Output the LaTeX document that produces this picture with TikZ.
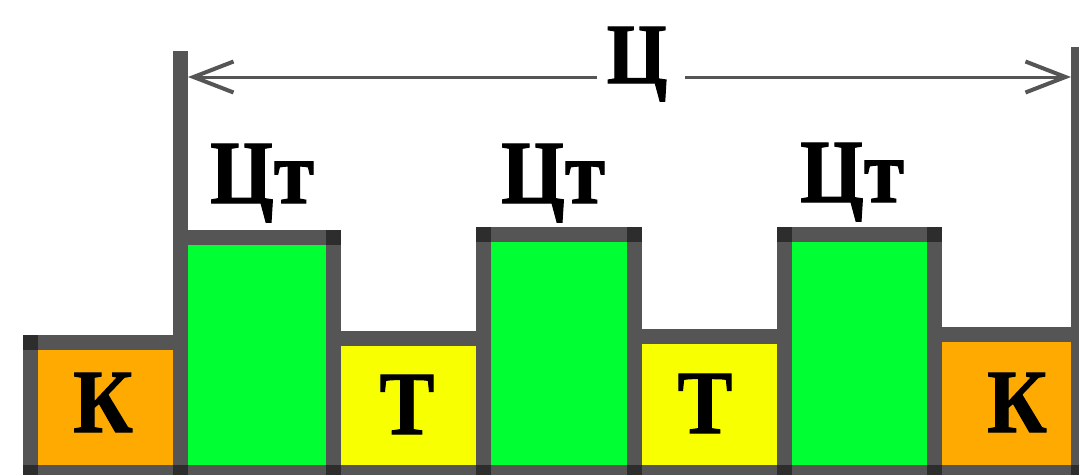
\documentclass[tikz,border=0pt]{standalone}
\usepackage{fontspec}
\setmainfont{Liberation Serif}[BoldFeatures={FakeBold=1.2}]
\usetikzlibrary{arrows.meta}

\definecolor{bargray}{RGB}{85,85,85}
\definecolor{jointgray}{RGB}{45,45,45}
\definecolor{restorange}{RGB}{255,170,0}
\definecolor{workgreen}{RGB}{0,255,51}
\definecolor{techyellow}{RGB}{247,255,0}

\tikzset{
  cell/.style={draw=bargray, line width=15pt, inner sep=0pt, outer sep=0pt, line join=miter},
  joint/.style={fill=jointgray},
  post/.style={draw=bargray, line width=15pt, line cap=butt},
  dim/.style={draw=bargray, line width=3pt, -{Straight Barb[length=40pt, width=31pt, line width=4pt]}},
  biglabel/.style={anchor=base, inner sep=0pt, font=\fontsize{82}{82}\selectfont\bfseries},
  toplabel/.style={anchor=base, inner sep=0pt, font=\fontsize{78}{78}\selectfont\bfseries}
}

% dark squares at the four corners of a cell
\newcommand\cellcorners[1]{%
  \foreach \c in {north west, north east, south west, south east}
    \fill[joint] (#1.\c) +(-7.5,-7.5) rectangle +(7.5,7.5);%
}

\begin{document}
\begin{tikzpicture}[x=1pt, y=-1pt]
  \useasboundingbox[fill=white] (0,0) rectangle (1079,474);

  % low cells: changeover and maintenance
  \node[cell, fill=restorange, minimum width=150pt, minimum height=130pt] (k1) at (105.5,407.5) {};
  \node[cell, fill=techyellow, minimum width=150pt, minimum height=134.5pt] (t1) at (408.5,405.25) {};
  \node[cell, fill=techyellow, minimum width=150.5pt, minimum height=136.5pt] (t2) at (709.25,404.25) {};
  \node[cell, fill=restorange, minimum width=144.5pt, minimum height=138pt] (k2) at (1006.25,403.5) {};
  \cellcorners{k1}
  \cellcorners{t1}
  \cellcorners{t2}
  \cellcorners{k2}

  % tall cells: working cycles
  \node[cell, fill=workgreen, minimum width=153pt, minimum height=235pt] (g1) at (257,355) {};
  \node[cell, fill=workgreen, minimum width=150.5pt, minimum height=238pt] (g2) at (558.75,353.5) {};
  \node[cell, fill=workgreen, minimum width=149.5pt, minimum height=238.5pt] (g3) at (859.25,353.25) {};
  \cellcorners{g1}
  \cellcorners{g2}
  \cellcorners{g3}

  % boundary posts of the full cycle
  \coordinate (pl) at (180.5,51);
  \coordinate (pr) at (1078.5,47);
  \draw[post] (pl) -- (g1.south west |- 0,465);
  \draw[post] (pr) -- (k2.south east |- 0,465);

  % dimension line
  \node[toplabel] (c) at (637,83) {\scalebox{1}[1.1]{Ц}};
  \coordinate (aL) at (188,77);
  \coordinate (aR) at (1071,77);
  \coordinate (cw) at (597,77);
  \coordinate (ce) at (685,77);
  \draw[dim] (cw) -- (aL);
  \draw[dim] (ce) -- (aR);

  % labels
  \node[biglabel] (l1) at (262,203) {\scalebox{1}[1.1]{Цт}};
  \node[biglabel] (l2) at (553,203) {\scalebox{1}[1.1]{Цт}};
  \node[biglabel] (l3) at (852,202) {\scalebox{1}[1.1]{Цт}};
  \node[biglabel] (lk1) at (103,432) {\scalebox{1}[1.1]{К}};
  \node[biglabel] (lt1) at (407,434) {\scalebox{1}[1.1]{Т}};
  \node[biglabel] (lt2) at (705,433) {\scalebox{1}[1.1]{Т}};
  \node[biglabel] (lk2) at (1017,432) {\scalebox{1}[1.1]{К}};
\end{tikzpicture}
\end{document}
